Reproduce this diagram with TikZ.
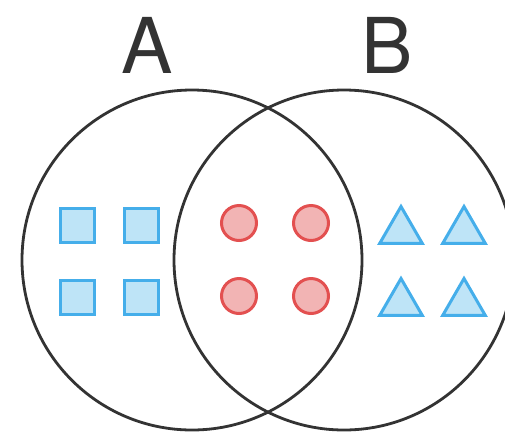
\documentclass[tikz,border=0pt]{standalone}
\usepackage{fontspec}
\setmainfont{TeX Gyre Heros}
\usetikzlibrary{shapes.geometric}
\definecolor{setline}{HTML}{333333}
\definecolor{blueline}{HTML}{45AEEA}
\definecolor{bluefill}{HTML}{BEE4F7}
\definecolor{redline}{HTML}{E35050}
\definecolor{redfill}{HTML}{F2B4B4}
\tikzset{
    setring/.style={circle, draw=setline, line width=2.8pt, minimum size=340pt, inner sep=0pt},
    setlabel/.style={anchor=base, text=setline, font=\fontsize{77}{77}\selectfont, inner sep=0pt},
    sqbox/.style={rectangle, draw=blueline, fill=bluefill, line width=3pt, minimum size=34pt, inner sep=0pt},
    dotbox/.style={circle, draw=redline, fill=redfill, line width=3pt, minimum size=35pt, inner sep=0pt},
    tribox/.style={regular polygon, regular polygon sides=3, draw=blueline, fill=bluefill, line width=3pt, minimum size=49pt, inner sep=0pt}
}
\begin{document}
\begin{tikzpicture}[x=1pt,y=-1pt]
    \useasboundingbox (0,0) rectangle (505,437);
    \clip (0,0) rectangle (505,437);

    \node[setlabel] (labelA) at (147,73)    {A};
    \node[setlabel] (labelB) at (387,73)    {B};

    \node[setring] (setA) at (192,260)      {};
    \node[setring] (setB) at (344,260)      {};

    \node[sqbox] (sq1) at (77,225)          {};
    \node[sqbox] (sq2) at (141,225)         {};
    \node[sqbox] (sq3) at (77,297)          {};
    \node[sqbox] (sq4) at (141,297)         {};

    \node[dotbox] (dot1) at (239,223)       {};
    \node[dotbox] (dot2) at (311,223)       {};
    \node[dotbox] (dot3) at (239,296)       {};
    \node[dotbox] (dot4) at (311,296)       {};

    \node[tribox] (tri1) at (401,231)       {};
    \node[tribox] (tri2) at (464,231)       {};
    \node[tribox] (tri3) at (401,303)       {};
    \node[tribox] (tri4) at (464,303)       {};

\end{tikzpicture}
\end{document}
